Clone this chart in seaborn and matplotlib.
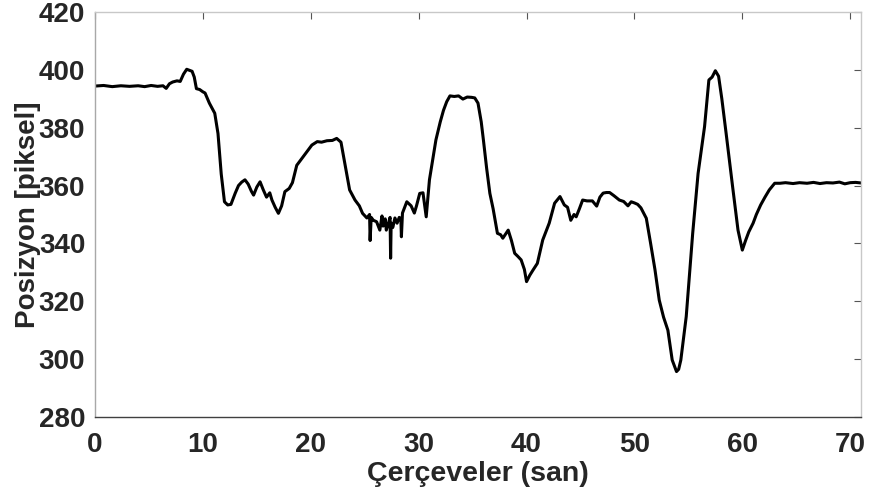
import matplotlib
matplotlib.use("Agg")
import matplotlib.pyplot as plt
import seaborn as sns
import pandas as pd

# Time (s) and position (pixel)
t = [0.0, 0.8, 1.6, 2.4, 3.2, 4.0, 4.6, 5.2, 5.8, 6.3, 6.6, 6.9, 7.2, 7.6, 7.9, 8.2, 8.5, 8.8, 9.0,
     9.2, 9.4, 9.7, 10.0, 10.2, 10.6, 11.1, 11.4, 11.7, 12.0, 12.3, 12.6, 13.0, 13.3,
     13.6, 13.9, 14.2, 14.5, 14.7, 15.0, 15.3, 15.6, 15.9, 16.2, 16.4, 16.7, 17.0,
     17.3, 17.6, 18.0, 18.3, 18.7, 19.0, 19.3, 19.7, 20.1, 20.6, 21.0, 21.5, 22.0,
     22.4, 22.8, 23.1, 23.6, 24.1, 24.5, 24.8, 25.2, 25.45, 25.5, 25.6, 25.8, 26.1,
     26.4, 26.6, 26.7, 26.9, 27.0, 27.2, 27.35, 27.4, 27.45, 27.6, 27.8, 28.0, 28.2,
     28.35, 28.4, 28.5, 28.9, 29.3, 29.6, 29.8, 30.1, 30.4, 30.7, 31.0, 31.3, 31.6,
     32.0, 32.3, 32.6, 32.9, 33.3, 33.7, 34.1, 34.5, 34.9, 35.2, 35.5, 35.8, 36.0,
     36.3, 36.6, 36.9, 37.3, 37.6, 37.8, 38.1, 38.3, 38.6, 38.9, 39.2, 39.5, 39.8,
     40.0, 40.3, 40.6, 41.0, 41.5, 42.1, 42.6, 43.1, 43.5, 43.8, 44.1, 44.4, 44.6,
     44.9, 45.2, 45.6, 46.1, 46.5, 46.8, 47.1, 47.4, 47.7, 48.1, 48.6, 49.0, 49.4,
     49.7, 50.0, 50.3, 50.6, 51.1, 51.5, 51.9, 52.3, 52.7, 53.1, 53.5, 53.9, 54.1,
     54.3, 54.8, 55.4, 55.9, 56.5, 56.9, 57.2, 57.5, 57.8, 58.1, 58.5, 59.1, 59.6,
     60.0, 60.3, 60.6, 61.0, 61.3, 61.7, 62.1, 62.5, 63.0, 63.5, 64.0, 64.7, 65.3,
     66.0, 66.6, 67.2, 67.8, 68.4, 69.0, 69.5, 70.0, 70.5, 71.0]
pos = [394.4, 394.6, 394.2, 394.5, 394.3, 394.5, 394.2, 394.6, 394.3, 394.5, 393.6, 395.2,
       395.8, 396.2, 396.0, 398.5, 400.2, 399.8, 399.5, 397.5, 393.5, 393.2, 392.4,
       392.0, 388.5, 385.0, 378.0, 364.0, 354.4, 353.3, 353.5, 357.4, 360.0, 361.2,
       362.0, 360.5, 358.0, 356.7, 359.5, 361.3, 358.5, 356.0, 357.5, 355.0, 352.5,
       350.4, 353.0, 357.9, 359.0, 361.0, 367.0, 368.5, 370.0, 372.0, 374.0, 375.2,
       375.0, 375.5, 375.6, 376.3, 375.0, 368.8, 358.5, 355.0, 353.0, 350.4, 348.8,
       350.0, 341.0, 349.0, 348.0, 347.5, 344.6, 349.5, 346.0, 348.5, 344.6, 347.0,
       349.0, 334.9, 347.0, 345.5, 348.8, 347.0, 349.0, 348.5, 342.3, 350.5, 354.4,
       353.0, 350.5, 353.0, 357.3, 357.5, 349.2, 362.0, 369.0, 375.8, 382.0, 386.0,
       389.0, 391.0, 390.8, 391.0, 389.9, 390.6, 390.5, 390.3, 388.5, 382.0, 375.8,
       366.0, 357.3, 352.0, 343.5, 343.0, 341.8, 343.5, 344.6, 341.0, 336.6, 335.5,
       334.3, 331.0, 326.8, 329.0, 330.8, 333.1, 341.2, 347.0, 353.9, 356.2, 353.3,
       352.5, 348.0, 350.0, 349.2, 352.0, 355.0, 354.7, 354.7, 352.9, 356.0, 357.4,
       357.6, 357.6, 356.5, 355.0, 354.5, 353.0, 354.4, 354.0, 353.5, 352.3, 348.7,
       340.0, 331.0, 320.4, 314.5, 310.0, 299.7, 295.7, 296.5, 299.7, 314.7, 343.5,
       364.2, 380.4, 396.5, 397.5, 399.7, 397.8, 390.0, 378.0, 359.6, 344.6, 337.7,
       341.0, 344.0, 347.0, 350.0, 353.3, 356.0, 358.5, 360.8, 360.8, 361.0, 360.7,
       361.0, 360.8, 361.1, 360.7, 361.0, 360.9, 361.2, 360.6, 361.0, 361.1, 360.9]

x_ticks = [0, 10, 20, 30, 40, 50, 60, 70]
y_ticks = [280, 300, 320, 340, 360, 380, 400, 420]
x_label = "Çerçeveler (san)"
y_label = "Posizyon [piksel]"

df = pd.DataFrame({"t": t, "pos": pos})

sns.set_style("white")
plt.rcParams["font.family"] = ["Liberation Sans", "DejaVu Sans"]

fig = plt.figure(figsize=(8.69, 5.04), dpi=100)
ax = fig.add_axes([95 / 869, 1 - 417 / 504, (861 - 95) / 869, (417 - 12) / 504])
sns.lineplot(data=df, x="t", y="pos", ax=ax, color="black", linewidth=2.2,
             estimator=None, sort=False)

ax.set_xlim(0, 71)
ax.set_ylim(280, 420)
ax.set_xticks(x_ticks)
ax.set_yticks(y_ticks)
ax.tick_params(axis="both", which="both", direction="in", length=5, width=0.8,
               top=True, right=True, colors="#555555", labelcolor="#262626",
               labelsize=20)
ax.tick_params(axis="x", pad=11)
ax.tick_params(axis="y", pad=7)
for lab in ax.get_xticklabels() + ax.get_yticklabels():
    lab.set_fontweight("bold")
ax.set_xlabel(x_label, fontsize=20.5, fontweight="bold", color="#262626", labelpad=2)
ax.set_ylabel(y_label, fontsize=20, fontweight="bold", color="#262626", labelpad=-1.5)

for side, col in [("top", "#c8c8c8"), ("right", "#c8c8c8"),
                  ("left", "#a8a8a8"), ("bottom", "#404040")]:
    ax.spines[side].set_visible(True)
    ax.spines[side].set_color(col)
    ax.spines[side].set_linewidth(1.0)

fig.savefig("out.png", dpi=100, facecolor="white")
